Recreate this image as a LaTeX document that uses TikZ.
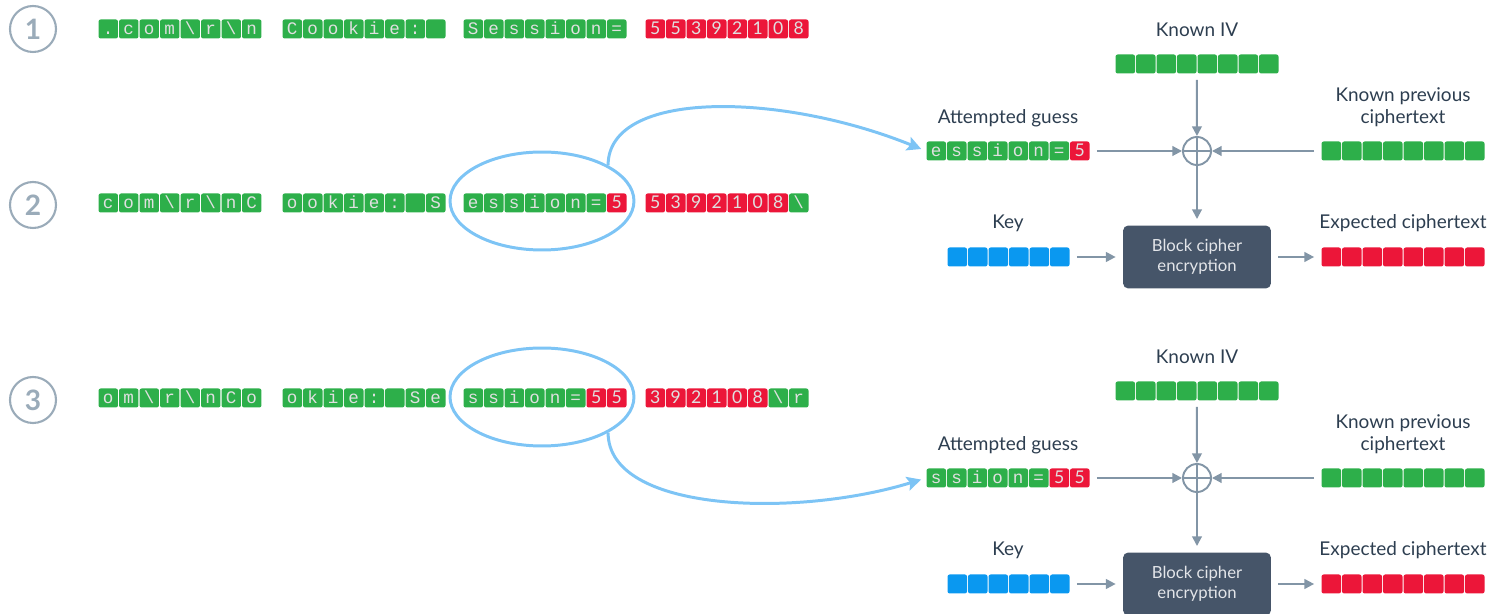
\documentclass[tikz,border=0pt]{standalone}
\usepackage{fontspec}
\setmainfont{Lato}
\newfontfamily\cellmono{Liberation Mono}
\usetikzlibrary{arrows.meta,positioning,calc,shapes.geometric}
\definecolor{cgreen}{HTML}{2DAF4A}
\definecolor{cred}{HTML}{EC1639}
\definecolor{cblue}{HTML}{0A98F0}
\definecolor{lblue}{HTML}{7DC4F5}
\definecolor{slate}{HTML}{465569}
\definecolor{cwire}{HTML}{8295A6}
\definecolor{ink}{HTML}{2D3E50}
\definecolor{ring}{HTML}{9AABB9}
\newcommand{\bs}{\textbackslash}

\tikzset{
  cell/.style={rounded corners=1.2pt, minimum width=0.39cm, minimum height=0.38cm,
    inner sep=0pt, text height=6.6pt, text depth=0pt, text=white!88!black},
  g cell/.style={cell, fill=cgreen, font=\cellmono\fontsize{10}{10}\selectfont},
  r cell/.style={cell, fill=cred, font=\fontsize{10}{10}\selectfont},
  b cell/.style={cell, fill=cblue},
  lbl/.style={text=ink, font=\fontsize{10.8}{12.8}\selectfont, align=center},
  flow/.style={draw=cwire, line width=1.1pt, -{Triangle[length=5.5pt,width=5.5pt]}},
  hop/.style={draw=lblue, line width=1.7pt, -{Stealth[length=8pt,width=8pt,inset=1.5pt]}},
  loop/.style={ellipse, draw=lblue, line width=1.7pt, minimum width=3.68cm, minimum height=1.96cm},
  xor/.style={circle, draw=cwire, line width=1.1pt, minimum size=0.56cm, inner sep=0pt,
    path picture={\draw[cwire, line width=1.1pt]
      (path picture bounding box.north) -- (path picture bounding box.south)
      (path picture bounding box.west) -- (path picture bounding box.east);}},
  cipher/.style={fill=slate, rounded corners=3pt, minimum width=2.96cm, minimum height=1.26cm,
    text=white!85!slate, font=\fontsize{9.5}{11.5}\selectfont, align=center},
  stepnum/.style={circle, draw=ring, line width=1.2pt, minimum size=0.92cm, inner sep=0pt,
    text=ring, font=\fontsize{16}{16}\selectfont\bfseries}
}

% a row of cells: name, left edge, centre y, list of kind/char
\newcommand{\cellstrip}[4]{%
  \foreach \k/\t [count=\i] in {#4}
    \node[\k\space cell] (#1-\i) at ({#2+(\i-0.5)*20.5},#3) {\t};
}

\begin{document}
\begin{tikzpicture}[x=0.02cm, y=-0.02cm]
\useasboundingbox (0,0) rectangle (1499,614);

% step numbers
\node[stepnum] (n1) at (33,29) {1};
\node[stepnum] (n2) at (33,205) {2};
\node[stepnum] (n3) at (33,400) {3};

% row 1
\cellstrip{r1a}{98}{29}{g/.,g/c,g/o,g/m,g/\bs,g/r,g/\bs,g/n}
\cellstrip{r1b}{282}{29}{g/C,g/o,g/o,g/k,g/i,g/e,g/:,g/{}}
\cellstrip{r1c}{463}{29}{g/S,g/e,g/s,g/s,g/i,g/o,g/n,g/=}
\cellstrip{r1d}{645}{29}{r/5,r/5,r/3,r/9,r/2,r/1,r/0,r/8}

% row 2
\cellstrip{r2a}{98}{203}{g/c,g/o,g/m,g/\bs,g/r,g/\bs,g/n,g/C}
\cellstrip{r2b}{282}{203}{g/o,g/o,g/k,g/i,g/e,g/:,g/{},g/S}
\cellstrip{r2c}{463}{203}{g/e,g/s,g/s,g/i,g/o,g/n,g/=,r/5}
\cellstrip{r2d}{645}{203}{r/5,r/3,r/9,r/2,r/1,r/0,r/8,g/\bs}
\node[loop] (loopA) at (542,201) {};

% row 3
\cellstrip{r3a}{98}{398}{g/o,g/m,g/\bs,g/r,g/\bs,g/n,g/C,g/o}
\cellstrip{r3b}{282}{398}{g/o,g/k,g/i,g/e,g/:,g/{},g/S,g/e}
\cellstrip{r3c}{463}{398}{g/s,g/s,g/i,g/o,g/n,g/=,r/5,r/5}
\cellstrip{r3d}{645}{398}{r/3,r/9,r/2,r/1,r/0,r/8,g/\bs,g/r}
\node[loop] (loopB) at (542,397) {};

% first check
\node[lbl] (ivlblA) at (1197,30) {Known IV};
\cellstrip{ivA}{1115}{64}{g/{},g/{},g/{},g/{},g/{},g/{},g/{},g/{}}
\node[lbl] (guesslblA) at (1008,118) {Attempted guess};
\cellstrip{guessA}{926}{151}{g/e,g/s,g/s,g/i,g/o,g/n,g/=,r/5}
\node[lbl] (prevlblA) at (1403,107) {Known previous\\ciphertext};
\cellstrip{prevA}{1321}{151}{g/{},g/{},g/{},g/{},g/{},g/{},g/{},g/{}}
\node[xor] (xorA) at (1197,151) {};
\node[lbl] (keylblA) at (1008,223) {Key};
\cellstrip{keyA}{947}{257}{b/{},b/{},b/{},b/{},b/{},b/{}}
\node[cipher] (boxA) at (1197,257) {Block cipher\\encryption};
\node[lbl] (explblA) at (1403,223) {Expected ciphertext};
\cellstrip{expA}{1321}{257}{r/{},r/{},r/{},r/{},r/{},r/{},r/{},r/{}}

\draw[flow, shorten <=3.5pt] (ivA-4.south east) -- (xorA);
\draw[flow, shorten <=4pt] (guessA-8.east) -- (xorA);
\draw[flow, shorten <=4pt] (prevA-1.west) -- (xorA);
\draw[flow, shorten >=3.5pt] (xorA) -- (boxA);
\draw[flow, shorten <=4pt, shorten >=4pt] (keyA-6.east) -- (boxA);
\draw[flow, shorten <=4pt, shorten >=4pt] (boxA) -- (expA-1.west);
\draw[hop, shorten >=3pt] (loopA.north east) .. controls +(0,-76) and +(-146,-59) .. (guessA-1.west);

% second check
\node[lbl] (ivlblB) at (1197,357) {Known IV};
\cellstrip{ivB}{1115}{391}{g/{},g/{},g/{},g/{},g/{},g/{},g/{},g/{}}
\node[lbl] (guesslblB) at (1008,445) {Attempted guess};
\cellstrip{guessB}{926}{478}{g/s,g/s,g/i,g/o,g/n,g/=,r/5,r/5}
\node[lbl] (prevlblB) at (1403,434) {Known previous\\ciphertext};
\cellstrip{prevB}{1321}{478}{g/{},g/{},g/{},g/{},g/{},g/{},g/{},g/{}}
\node[xor] (xorB) at (1197,478) {};
\node[lbl] (keylblB) at (1008,550) {Key};
\cellstrip{keyB}{947}{584}{b/{},b/{},b/{},b/{},b/{},b/{}}
\node[cipher] (boxB) at (1197,584) {Block cipher\\encryption};
\node[lbl] (explblB) at (1403,550) {Expected ciphertext};
\cellstrip{expB}{1321}{584}{r/{},r/{},r/{},r/{},r/{},r/{},r/{},r/{}}

\draw[flow, shorten <=3.5pt] (ivB-4.south east) -- (xorB);
\draw[flow, shorten <=4pt] (guessB-8.east) -- (xorB);
\draw[flow, shorten <=4pt] (prevB-1.west) -- (xorB);
\draw[flow, shorten >=3.5pt] (xorB) -- (boxB);
\draw[flow, shorten <=4pt, shorten >=4pt] (keyB-6.east) -- (boxB);
\draw[flow, shorten <=4pt, shorten >=4pt] (boxB) -- (expB-1.west);
\draw[hop, shorten >=3pt] (loopB.south east) .. controls +(0,80) and +(-130,40) .. (guessB-1.west);

\end{tikzpicture}
\end{document}
